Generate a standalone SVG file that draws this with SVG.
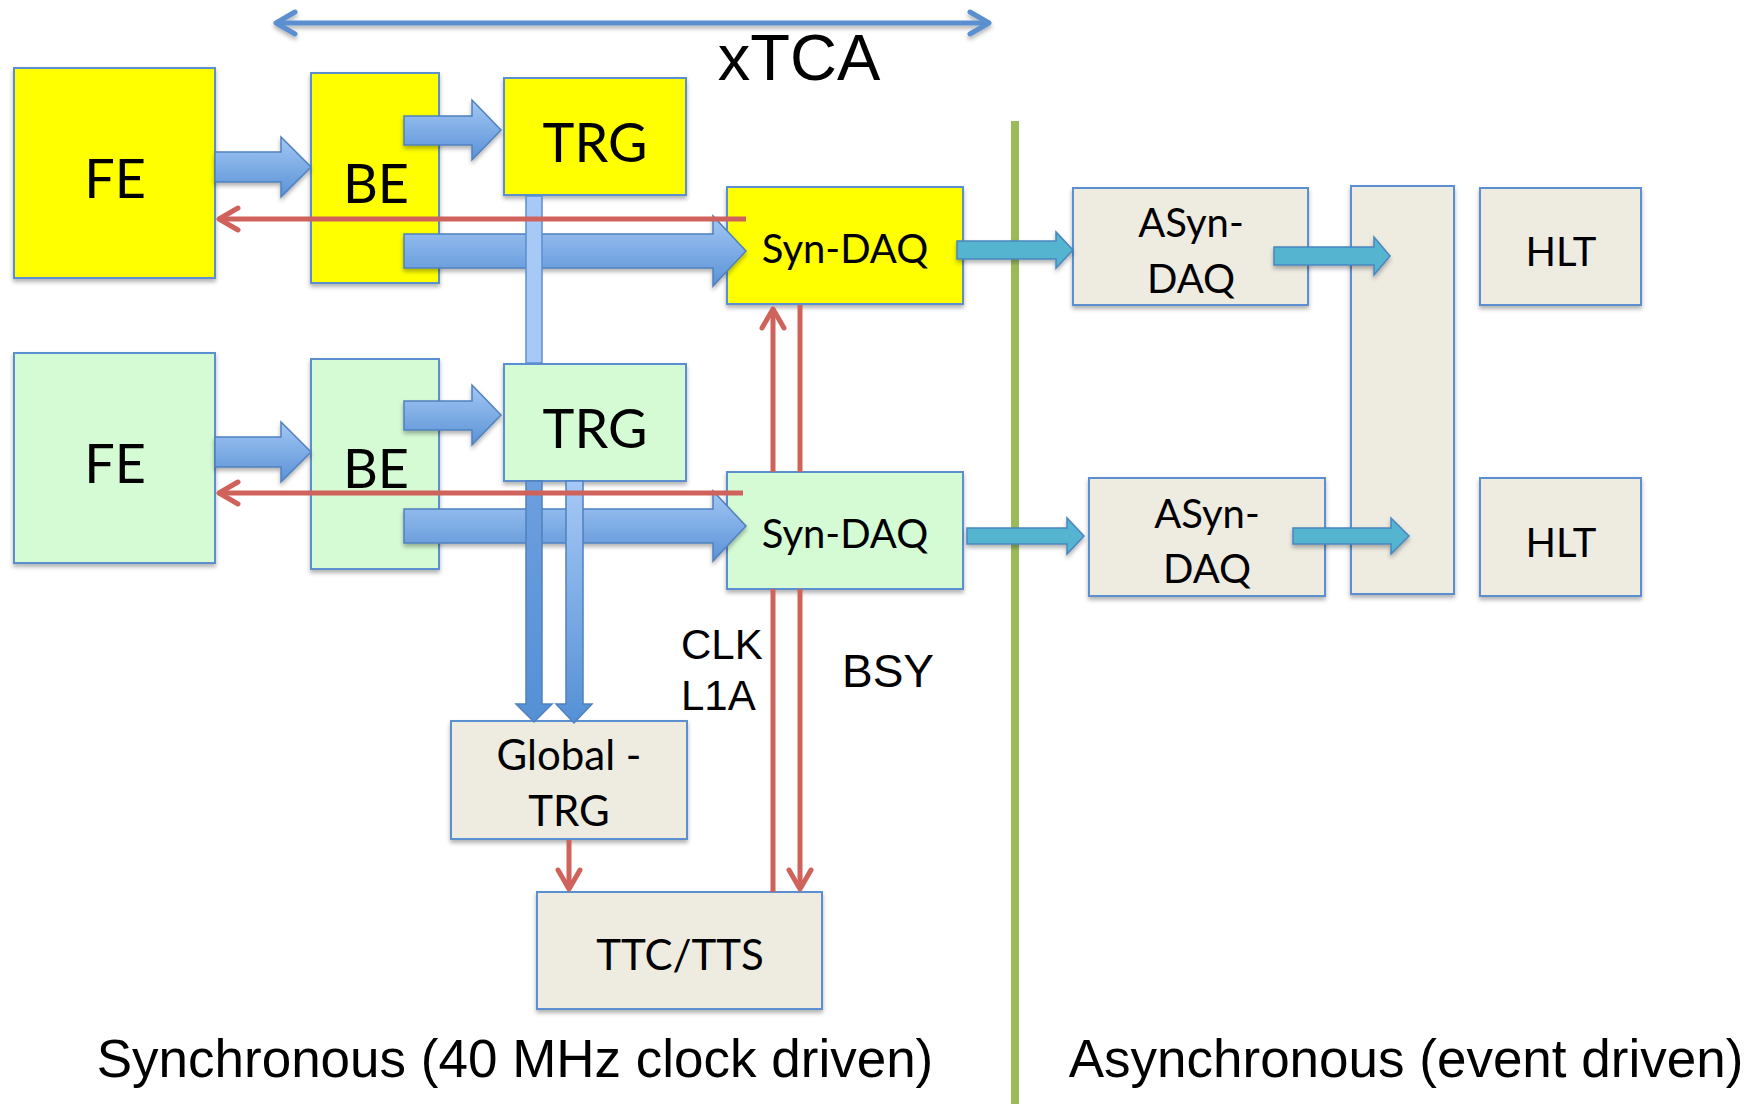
<svg xmlns="http://www.w3.org/2000/svg" width="1755" height="1104" viewBox="0 0 1755 1104">
<style>
.box{stroke:#5b8fcf;stroke-width:2;filter:url(#sh)}
.yel{fill:#ffff00}
.grn{fill:#d5fbd4}
.gry{fill:#eeece1}
.lbl{font-family:Lato,"Open Sans",sans-serif;fill:#000;text-anchor:middle}
.big{font-size:54px}
.mid{font-size:40px}
.ar{font-family:"Liberation Sans",Arial,sans-serif;fill:#000}
.blk{fill:url(#bg);stroke:#4f81bd;stroke-width:1.5;filter:url(#sh)}
.teal{fill:#55b4d0;stroke:#4a86c0;stroke-width:1.5;filter:url(#sh)}
.red{stroke:#cf635c;stroke-width:5;fill:none}
.redh{marker-end:url(#rh)}
</style>
<defs>
<filter id="sh" x="-10%" y="-10%" width="130%" height="130%">
<feDropShadow dx="0" dy="3" stdDeviation="2" flood-color="#000" flood-opacity="0.3"/>
</filter>
<filter id="shu" filterUnits="userSpaceOnUse" x="240" y="0" width="780" height="50">
<feDropShadow dx="0" dy="3" stdDeviation="2" flood-color="#000" flood-opacity="0.3"/>
</filter>
<linearGradient id="bg" x1="0" y1="0" x2="0" y2="1">
<stop offset="0" stop-color="#a3c7f5"/>
<stop offset="1" stop-color="#5a92d6"/>
</linearGradient>
<linearGradient id="vg1" gradientUnits="userSpaceOnUse" x1="0" y1="481" x2="0" y2="722">
<stop offset="0" stop-color="#6c9fdf"/>
<stop offset="1" stop-color="#5590d5"/>
</linearGradient>
<linearGradient id="vg2" gradientUnits="userSpaceOnUse" x1="0" y1="481" x2="0" y2="722">
<stop offset="0" stop-color="#a6c9f6"/>
<stop offset="1" stop-color="#5590d5"/>
</linearGradient>
<marker id="rh" markerUnits="userSpaceOnUse" viewBox="0 0 26 28" markerWidth="26" markerHeight="28" refX="22" refY="14" orient="auto">
<path d="M3,3 L22,14 L3,25" fill="none" stroke="#cf635c" stroke-width="5" stroke-linecap="round" stroke-linejoin="round"/>
</marker>
<marker id="bh" markerUnits="userSpaceOnUse" viewBox="0 0 26 28" markerWidth="26" markerHeight="28" refX="22" refY="14" orient="auto-start-reverse">
<path d="M3,3 L22,14 L3,25" fill="none" stroke="#5b8fcf" stroke-width="5" stroke-linecap="round" stroke-linejoin="round"/>
</marker>
</defs>
<rect width="1755" height="1104" fill="#fff"/>

<g id="divider">
<rect x="1011" y="121" width="8" height="983" fill="#9bbb59"/>
</g>

<g id="FE1"><rect class="box yel" x="14" y="68" width="201" height="210"/><text class="lbl big" x="115" y="198">FE</text></g>
<g id="BE1"><rect class="box yel" x="311" y="73" width="128" height="210"/><text class="lbl big" x="376" y="203">BE</text></g>
<g id="TRG1"><rect class="box yel" x="504" y="78" width="182" height="117"/><text class="lbl big" x="595" y="162">TRG</text></g>
<g id="SynDAQ1"><rect class="box yel" x="727" y="187" width="236" height="117"/><text class="lbl mid" x="845" y="263">Syn-DAQ</text></g>
<g id="FE2"><rect class="box grn" x="14" y="353" width="201" height="210"/><text class="lbl big" x="115" y="483">FE</text></g>
<g id="BE2"><rect class="box grn" x="311" y="359" width="128" height="210"/><text class="lbl big" x="376" y="488">BE</text></g>
<g id="TRG2"><rect class="box grn" x="504" y="364" width="182" height="117"/><text class="lbl big" x="595" y="448">TRG</text></g>
<g id="SynDAQ2"><rect class="box grn" x="727" y="472" width="236" height="117"/><text class="lbl mid" x="845" y="548">Syn-DAQ</text></g>
<g id="GlobalTRG"><rect class="box gry" x="451" y="721" width="236" height="118"/><text class="lbl" style="font-size:42px" x="569" y="770">Global -</text><text class="lbl" style="font-size:42px" x="569" y="826">TRG</text></g>
<g id="TTCTTS"><rect class="box gry" x="537" y="892" width="285" height="117"/><text class="lbl" style="font-size:42px" x="680" y="970">TTC/TTS</text></g>
<g id="ASynDAQ1"><rect class="box gry" x="1073" y="188" width="235" height="117"/><text class="lbl mid" x="1191" y="237">ASyn-</text><text class="lbl mid" x="1191" y="293">DAQ</text></g>
<g id="ASynDAQ2"><rect class="box gry" x="1089" y="478" width="236" height="118"/><text class="lbl mid" x="1207" y="528">ASyn-</text><text class="lbl mid" x="1207" y="583">DAQ</text></g>
<g id="EventBuilder"><rect class="box gry" x="1351" y="186" width="103" height="408"/></g>
<g id="HLT1"><rect class="box gry" x="1480" y="188" width="161" height="117"/><text class="lbl mid" x="1561" y="266">HLT</text></g>
<g id="HLT2"><rect class="box gry" x="1480" y="478" width="161" height="118"/><text class="lbl mid" x="1561" y="557">HLT</text></g>

<g id="connectors">
<polygon class="blk" points="215,152 281,152 281,137 311,167 281,197 281,182 215,182"/>
<polygon class="blk" points="404,116 472,116 472,100 501,130 472,160 472,145 404,145"/>
<polygon class="blk" points="404,234 713,234 713,216 746,251 713,286 713,268 404,268"/>
<polygon class="blk" points="215,437 281,437 281,422 311,452 281,482 281,467 215,467"/>
<polygon class="blk" points="404,401 472,401 472,385 501,415 472,445 472,430 404,430"/>
<polygon class="blk" points="404,509 713,509 713,491 746,526 713,561 713,543 404,543"/>
<rect x="526" y="196" width="16" height="167" fill="#a6c9f6" stroke="#5b8fcf" stroke-width="1.5"/>
<polygon points="526,481 542,481 542,704 552,704 534,722 516,704 526,704" fill="url(#vg1)" stroke="#4f81bd" stroke-width="1.5"/>
<polygon points="566,481 583,481 583,704 592,704 574,723 556,704 566,704" fill="url(#vg2)" stroke="#4f81bd" stroke-width="1.5"/>
<polygon class="teal" points="957,241 1056,241 1056,232 1073,250 1056,268 1056,259 957,259"/>
<polygon class="teal" points="1274,247 1374,247 1374,237 1390,256 1374,275 1374,265 1274,265"/>
<polygon class="teal" points="967,528 1067,528 1067,518 1084,536 1067,554 1067,544 967,544"/>
<polygon class="teal" points="1293,528 1391,528 1391,518 1409,536 1391,554 1391,544 1293,544"/>
<line class="red redh" x1="746" y1="219" x2="219" y2="219"/>
<line class="red redh" x1="743" y1="493" x2="219" y2="493"/>
<line class="red" x1="773" y1="892" x2="773" y2="589"/>
<line class="red redh" x1="773" y1="472" x2="773" y2="309"/>
<line class="red" x1="800" y1="305" x2="800" y2="472"/>
<line class="red redh" x1="800" y1="589" x2="800" y2="889"/>
<line class="red redh" x1="569" y1="840" x2="569" y2="889"/>
<line x1="276" y1="23" x2="989" y2="23" stroke="#5b8fcf" stroke-width="5" marker-start="url(#bh)" marker-end="url(#bh)" filter="url(#shu)"/>
</g>

<g id="labels">
<text class="ar" x="799" y="80" text-anchor="middle" font-size="65">xTCA</text>
<text class="ar" x="681" y="659" font-size="42">CLK</text>
<text class="ar" x="681" y="710" font-size="42">L1A</text>
<text class="ar" x="842" y="687" font-size="46">BSY</text>
<text class="ar" x="515" y="1077" text-anchor="middle" font-size="53">Synchronous (40 MHz clock driven)</text>
<text class="ar" x="1406" y="1077" text-anchor="middle" font-size="53">Asynchronous (event driven)</text>
</g>
</svg>
